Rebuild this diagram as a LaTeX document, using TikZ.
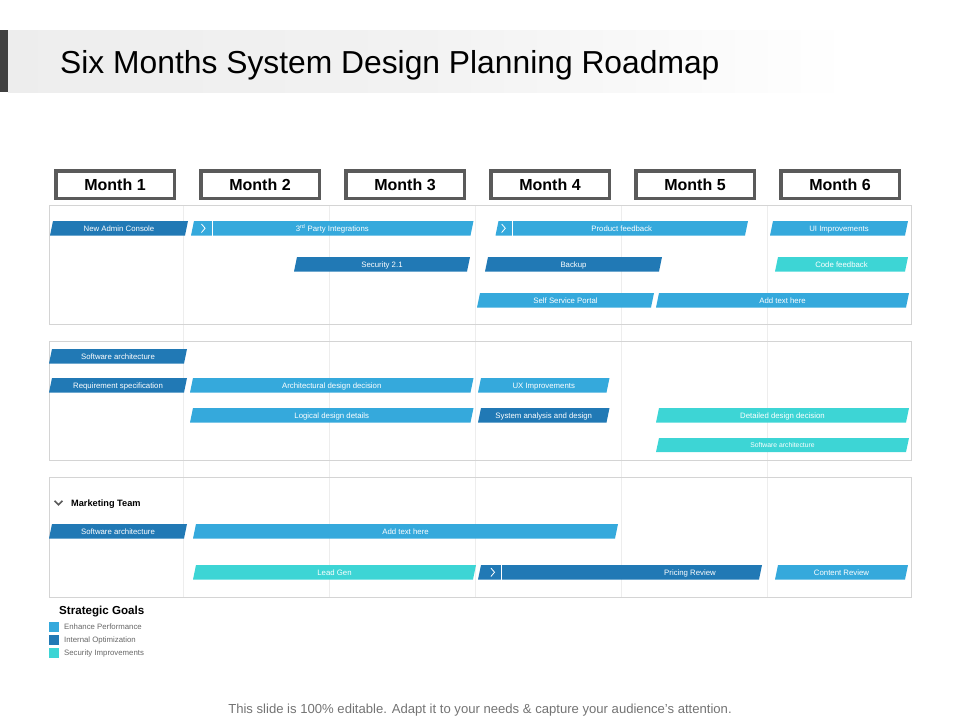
\documentclass[tikz,border=0pt]{standalone}
\usepackage{fontspec}
\setmainfont{Liberation Sans}
\definecolor{lblue}{HTML}{35A9DC}
\definecolor{dblue}{HTML}{2179B5}
\definecolor{rmteal}{HTML}{3DD5D5}
\definecolor{boxgray}{HTML}{5A5A5A}
\definecolor{panelgray}{HTML}{D4D4D4}
\definecolor{gridgray}{HTML}{EDEDED}
\newcommand\rmbarx[7]{%
  \fill[#5] (#2,#4+14.5) -- (#2+3,#4) -- (#3,#4) -- (#3-3,#4+14.5) -- cycle;
  \node[bartext] (#1) at (#7,#4+10) {#6};
}
\newcommand\rmbar[6]{\rmbarx{#1}{#2}{#3}{#4}{#5}{#6}{{(#2+#3)/2}}}
\newcommand\rmchev[3]{%
  \draw[white, line width=1pt] (#1,#2) -- (#1,#2+14.5);
  \draw[white, line width=0.8pt] (#3-1.8,#2+3) -- (#3+1.8,#2+7.25) -- (#3-1.8,#2+11.5);
}
\tikzset{
  bartext/.style={text=white, font=\fontsize{7.8}{8}\selectfont, inner sep=0pt, anchor=base},
  monthbox/.style={draw=boxgray, line width=3.5pt, fill=white, minimum width=118.5pt, minimum height=27.5pt, inner sep=0pt, font=\fontsize{16}{18}\selectfont\bfseries},
  panel/.style={draw=panelgray, line width=0.9pt},
  gridline/.style={draw=gridgray, line width=0.8pt},
  legtext/.style={text=black!60, font=\fontsize{7.8}{9}\selectfont, inner sep=0pt, anchor=base west},
}
\begin{document}
\begin{tikzpicture}[x=1pt,y=-1pt]
\useasboundingbox (0,0) rectangle (960,720);
% title bar
\shade[left color=black!7, right color=white, middle color=black!5] (8,30) rectangle (850,92);
\fill[black!75] (0,30) rectangle (8,92);
\node[anchor=base west, inner sep=0pt, font=\fontsize{31.8}{34}\selectfont] (title) at (60,73) {Six Months System Design Planning Roadmap};
% month boxes
\foreach \i/\cx in {1/115,2/260,3/405,4/550,5/695,6/840}{
  \node[monthbox] (m\i) at (\cx,184.5) {Month \i};
}
% grid lines
\foreach \gx in {183.5,329.5,475.5,621.5,767.5}{
  \draw[gridline] (\gx,205) -- (\gx,597);
}
% panels
\draw[panel] (49.5,205.5) rectangle (911.5,324.5);
\draw[panel] (49.5,341.5) rectangle (911.5,460.5);
\draw[panel] (49.5,477.5) rectangle (911.5,597.5);
% panel 1
\rmbar{b1}{50}{188}{221}{dblue}{New Admin Console}
\rmbar{b2}{191}{473.5}{221}{lblue}{3\textsuperscript{rd} Party Integrations}
\rmchev{212.3}{221}{203.3}
\rmbar{b3}{495.5}{748}{221}{lblue}{Product feedback}
\rmchev{512}{221}{503.5}
\rmbar{b4}{770}{908}{221}{lblue}{UI Improvements}
\rmbar{b5}{294}{470}{257}{dblue}{Security 2.1}
\rmbar{b6}{485}{662}{257}{dblue}{Backup}
\rmbar{b7}{775}{908}{257}{rmteal}{Code feedback}
\rmbar{b8}{477}{654}{293}{lblue}{Self Service Portal}
\rmbar{b9}{656}{909}{293}{lblue}{Add text here}
% panel 2
\rmbar{c1}{49}{187}{349}{dblue}{Software architecture}
\rmbar{c2}{49}{187}{378}{dblue}{Requirement specification}
\rmbar{c3}{190}{473.5}{378}{lblue}{Architectural design decision}
\rmbar{c4}{190}{473.5}{408}{lblue}{Logical design details}
\rmbar{c5}{478}{609.5}{378}{lblue}{UX Improvements}
\rmbar{c6}{478}{609.5}{408}{dblue}{System analysis and design}
\rmbar{c7}{656}{909}{408}{rmteal}{Detailed design decision}
\fill[rmteal] (656,452) -- (659,438) -- (909,438) -- (906,452) -- cycle;
\node[bartext, font=\fontsize{6.8}{8}\selectfont] (c8) at (782.5,447.5) {Software architecture};
% panel 3
\draw[boxgray, line width=1.6pt] (54.5,500.8) -- (58.5,504.8) -- (62.5,500.8);
\node[anchor=base west, inner sep=0pt, font=\fontsize{9.2}{11}\selectfont\bfseries] (mkt) at (71,506) {Marketing Team};
\rmbar{d1}{49}{187}{524}{dblue}{Software architecture}
\rmbar{d2}{193}{618}{524}{lblue}{Add text here}
\rmbar{d3}{193}{476}{565}{rmteal}{Lead Gen}
\rmbarx{d4}{478}{762}{565}{dblue}{Pricing Review}{690}
\rmchev{501.5}{565}{492.7}
\rmbar{d5}{775}{908}{565}{lblue}{Content Review}
% legend
\node[anchor=base west, inner sep=0pt, font=\fontsize{11.6}{13}\selectfont\bfseries] (sg) at (59,614) {Strategic Goals};
\fill[lblue] (49,622) rectangle (59,632);
\fill[dblue] (49,635) rectangle (59,645);
\fill[rmteal] (49,648) rectangle (59,658);
\node[legtext] (l1) at (64,629.5) {Enhance Performance};
\node[legtext] (l2) at (64,642.5) {Internal Optimization};
\node[legtext] (l3) at (64,655.5) {Security Improvements};
% footer
\node[anchor=base, inner sep=0pt, text=black!55, font=\fontsize{13.1}{15}\selectfont] (foot) at (480,713) {This slide is 100\% editable. Adapt it to your needs \& capture your audience’s attention.};
\end{tikzpicture}
\end{document}
